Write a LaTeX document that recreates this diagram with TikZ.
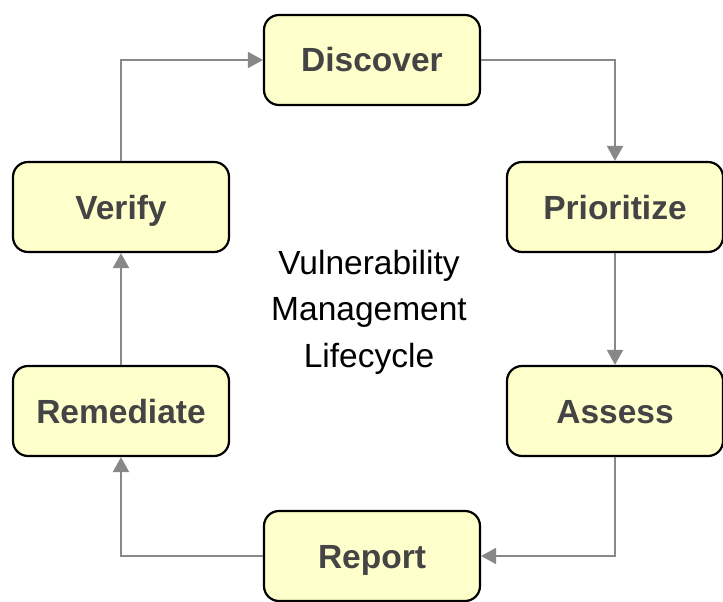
\documentclass[tikz,border=0pt]{standalone}
\usepackage{fontspec}
\setmainfont{Liberation Sans}
\usetikzlibrary{arrows.meta}
\definecolor{boxfill}{HTML}{FFFFCC}
\definecolor{boxtext}{HTML}{444444}
\definecolor{linkgray}{HTML}{888888}
\begin{document}
\begin{tikzpicture}[x=1pt,y=-1pt,
  stage/.style={draw=black, line width=2.2pt, fill=boxfill, rounded corners=15pt,
    minimum width=216pt, minimum height=90pt, inner sep=0pt,
    text height=24pt, text depth=0pt,
    font=\fontsize{33.5}{40}\selectfont\bfseries, text=boxtext},
  link/.style={draw=linkgray, line width=2pt, -{Triangle[length=15pt,width=16pt]}},
  title/.style={align=center, font=\fontsize{33.5}{46.5}\selectfont, text=black}]
\useasboundingbox (0,0) rectangle (723,602);
\node[stage] (disc) at (372,60) {Discover};
\node[stage] (prio) at (615,207) {Prioritize};
\node[stage] (asse) at (615,411) {Assess};
\node[stage] (repo) at (372,556) {Report};
\node[stage] (reme) at (121,411) {Remediate};
\node[stage] (veri) at (121,207) {Verify};
\node[title] (ttl) at (369,312) {Vulnerability\\Management\\Lifecycle};
\draw[link] (disc.east) -| (prio.north);
\draw[link] (prio.south) -- (asse.north);
\draw[link] (asse.south) |- (repo.east);
\draw[link] (repo.west) -| (reme.south);
\draw[link] (reme.north) -- (veri.south);
\draw[link] (veri.north) |- (disc.west);
\end{tikzpicture}
\end{document}
